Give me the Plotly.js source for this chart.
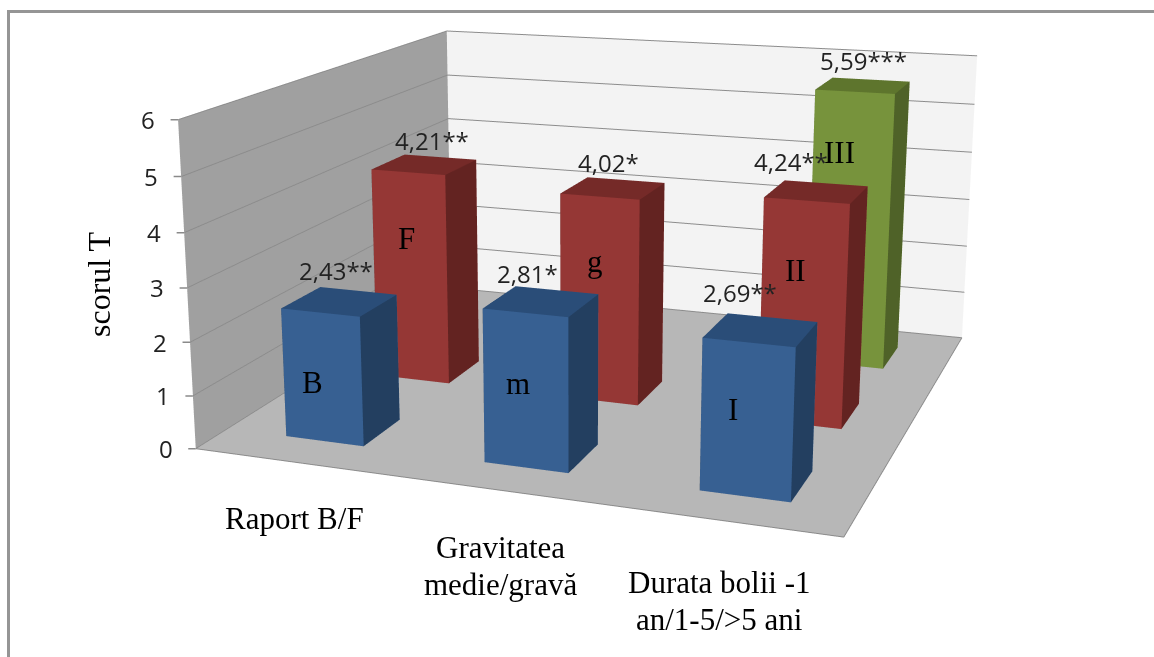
<!DOCTYPE html>
<html>
<head>
<meta charset="utf-8">
<script src="https://cdn.plot.ly/plotly-3.0.1.min.js"></script>
<style>
html,body{margin:0;padding:0;background:#fff;width:1154px;height:657px;overflow:hidden}
#stage{position:absolute;left:-487px;top:-528px;width:2000px;height:1620px}
#frame{position:absolute;left:7px;top:10px;right:-10px;bottom:-10px;border:3px solid #959595;pointer-events:none}
</style>
</head>
<body>
<div id="stage"></div>
<div id="frame"></div>
<script>
// T scores by study group
const categories = [['Raport B/F'], ['Gravitatea', 'medie/gravă'], ['Durata bolii -1', 'an/1-5/>5 ani']];
const blueValues = [2.43, 2.81, 2.69];
const redValues = [4.21, 4.02, 4.24];
const greenValues = [null, null, 5.59];
const blueStars = ['**', '*', '**'];
const redStars = ['**', '*', '**'];
const greenStars = ['', '', '***'];
const blueLetters = ['B', 'm', 'I'];
const redLetters = ['F', 'g', 'II'];
const greenLetters = ['', '', 'III'];
const yTicks = [0, 1, 2, 3, 4, 5, 6];

// Pixel nudges for labels, per series then category: [right, up]
const valueNudge = [[[-4, 31], [-14, 28], [-21, 37]], [[8, 24], [-4, 26], [-25, 30]], [null, null, [1, 25]]];
const letterNudge = [[[-10, -5], [-8, 8], [-14, 11]], [[-4, 39], [-4, 39], [-7, 44]], [null, null, [-10, 78]]];
const categoryNudge = [[0, -56], [-1, -57], [-7, -61]];
const LINE_GAP = 37.5;

const W = 2000, H = 1620, LEFT = -487, TOP = -528;
const X_MIN = -0.51, X_MAX = 2.49;
const halfX = 0.2, halfY = 0.2;
const SANS = {family: 'Open Sans', size: 24, color: '#222'};
const SERIF = {family: 'Liberation Serif', size: 31, color: '#000'};

// One mesh per series: a closed box for each non-empty value
function boxes(values, depth, front, side, top, name) {
  const x = [], y = [], z = [], i = [], j = [], k = [], facecolor = [];
  values.forEach((v, c) => {
    if (v === null) return;
    const n = x.length;
    [[-1,-1,0],[1,-1,0],[1,1,0],[-1,1,0],[-1,-1,1],[1,-1,1],[1,1,1],[-1,1,1]].forEach(p => {
      x.push(c + p[0] * halfX); y.push(depth + p[1] * halfY); z.push(p[2] * v);
    });
    const quad = (a, b, d, e, col) => {
      i.push(n + a, n + a); j.push(n + b, n + d); k.push(n + d, n + e);
      facecolor.push(col, col);
    };
    quad(0, 1, 5, 4, front);
    quad(1, 2, 6, 5, side);
    quad(4, 5, 6, 7, top);
    quad(0, 3, 7, 4, side);
    quad(3, 2, 6, 7, front);
    quad(0, 1, 2, 3, top);
  });
  return {type: 'mesh3d', name, x, y, z, i, j, k, facecolor, flatshading: true, hoverinfo: 'skip',
    lighting: {ambient: 1, diffuse: 0, specular: 0, roughness: 1, fresnel: 0},
    showscale: false};
}

const traces = [
  boxes(blueValues, 0, '#376092', '#233f60', '#2a4d78', 'B'),
  boxes(redValues, 1, '#953735', '#632321', '#752a28', 'F'),
  boxes(greenValues, 2, '#77933c', '#4f6228', '#5e752d', 'III')
];

const comma = v => v.toFixed(2).replace('.', ',');
const notes = [];
function labelSeries(values, stars, letters, depth) {
  values.forEach((v, c) => {
    if (v === null) return;
    const vn = valueNudge[depth][c], ln = letterNudge[depth][c];
    notes.push({x: c, y: depth, z: v, text: comma(v) + stars[c], showarrow: false, font: SANS, xshift: vn[0], yshift: vn[1]});
    notes.push({x: c, y: depth - halfY, z: v / 2, text: letters[c], showarrow: false, font: SERIF, xshift: ln[0], yshift: ln[1]});
  });
}
labelSeries(blueValues, blueStars, blueLetters, 0);
labelSeries(redValues, redStars, redLetters, 1);
labelSeries(greenValues, greenStars, greenLetters, 2);
categories.forEach((lines, c) => lines.forEach((t, n) => notes.push({x: c, y: -0.5, z: 0, text: t, showarrow: false, font: SERIF,
  xshift: categoryNudge[c][0], yshift: categoryNudge[c][1] - n * LINE_GAP})));
// Value-axis labels and their short tick stubs along the left wall edge
yTicks.forEach(t => {
  notes.push({x: X_MIN, y: -0.5, z: t, text: String(t), showarrow: false, font: SANS, xshift: -30});
  notes.push({x: X_MIN, y: -0.5, z: t, text: ' ', showarrow: true, arrowhead: 0, arrowwidth: 1.5, arrowcolor: '#8a8a8a',
    ax: -9, ay: 0, standoff: 0, startstandoff: 0, font: {size: 1}});
});

const noAxis = {showgrid: false, zeroline: false, showticklabels: false, ticks: '', title: {text: ''}, showspikes: false};
const layout = {
  width: W, height: H, margin: {l: 0, r: 0, t: 0, b: 0}, paper_bgcolor: 'rgba(0,0,0,0)', showlegend: false,
  scene: {
    domain: {x: [0, 1], y: [0, 1]},
    aspectmode: 'manual', aspectratio: {x: 1, y: 0.9873, z: 0.5096},
    camera: {eye: {x: 0.993, y: -2.934, z: 0.769}, center: {x: -0.1421, y: -0.0753, z: -0.0647},
      up: {x: -0.0888, y: 0.2466, z: 0.9651}, projection: {type: 'perspective'}},
    xaxis: Object.assign({}, noAxis, {range: [X_MIN, X_MAX], showbackground: true, backgroundcolor: '#a0a0a0',
      showline: true, linecolor: '#8a8a8a', linewidth: 2}),
    yaxis: Object.assign({}, noAxis, {range: [-0.5, 2.5], showbackground: true, backgroundcolor: '#f3f3f3',
      showline: true, linecolor: '#8a8a8a', linewidth: 2}),
    zaxis: {range: [0, 6], tickvals: yTicks, showticklabels: false, showgrid: true, gridcolor: '#8c8c8c', gridwidth: 2,
      zeroline: false, showspikes: false, showbackground: true, backgroundcolor: '#b7b7b7', ticks: '',
      title: {text: ''}, showline: false},
    annotations: notes
  },
  annotations: [{xref: 'paper', yref: 'paper', x: (99 - LEFT) / W, y: 1 - (284 - TOP) / H, text: 'scorul T', textangle: -90,
    xanchor: 'center', yanchor: 'middle', showarrow: false, font: {family: 'Liberation Serif', size: 32, color: '#000'}}]
};
Plotly.newPlot('stage', traces, layout, {displayModeBar: false});
</script>
</body>
</html>
